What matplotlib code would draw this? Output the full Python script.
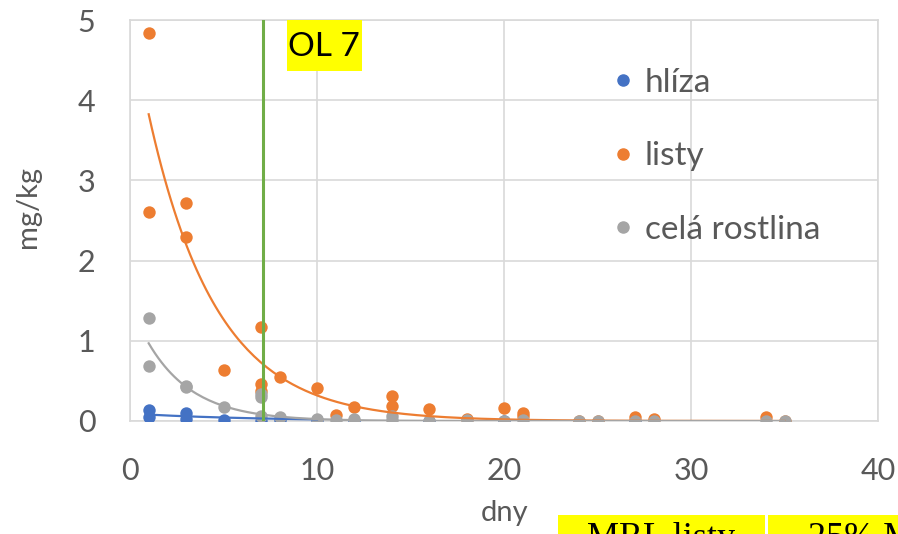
import numpy as np
import matplotlib
matplotlib.use("Agg")
import matplotlib.pyplot as plt
from matplotlib.lines import Line2D
from matplotlib.patches import Rectangle

plt.rcParams['font.family'] = ['Lato', 'DejaVu Sans']

# hlíza (tuber)
tuber_days = [1, 1, 3, 3, 5, 7, 8, 10, 12, 16, 20, 27]
tuber_vals = [0.14, 0.05, 0.10, 0.03, 0.01, 0.0, 0.01, 0.01, 0.0, 0.0, 0.0, 0.0]

# listy (leaves)
leaf_days = [1, 1, 3, 3, 5, 7, 7, 7, 8, 10, 11, 12, 14, 14, 16, 18, 20, 21, 21, 24, 25, 27, 28, 34, 35]
leaf_vals = [4.84, 2.60, 2.72, 2.29, 0.63, 1.17, 0.46, 0.37, 0.55, 0.41, 0.07, 0.17, 0.31, 0.19,
             0.15, 0.02, 0.16, 0.10, 0.06, 0.0, 0.0, 0.05, 0.02, 0.05, 0.0]

# celá rostlina (whole plant)
plant_days = [1, 1, 3, 3, 5, 7, 7, 7, 8, 10, 11, 12, 14, 14, 16, 18, 20, 21, 24, 25, 27, 28, 34, 35]
plant_vals = [1.29, 0.69, 0.44, 0.42, 0.17, 0.34, 0.30, 0.06, 0.05, 0.02, 0.01, 0.03, 0.06, 0.01,
              0.0, 0.01, 0.0, 0.01, 0.0, 0.0, 0.0, 0.0, 0.0, 0.0]

# exponential trend lines y = a*exp(-b*x) as shown in the chart, with x range
trend_tuber = (0.093, 0.154, 1, 10)
trend_leaf = (5.04, 0.276, 1, 35)
trend_plant = (1.46, 0.41, 1, 35)

ol_day = 7.1

blue = '#4472C4'
orange = '#ED7D31'
gray = '#A5A5A5'
green = '#70AD47'
txt = '#595959'
grid = '#D9D9D9'
yellow = '#FFFF00'

W, H = 898, 534
fig = plt.figure(figsize=(W / 100, H / 100), dpi=100)
ax = fig.add_axes([130 / W, 1 - 421 / H, 748 / W, 401 / H])

ms = 80
ax.scatter(tuber_days, tuber_vals, s=ms, color=blue, zorder=3, linewidths=0)
ax.scatter(leaf_days, leaf_vals, s=ms, color=orange, zorder=3, linewidths=0)
ax.scatter(plant_days, plant_vals, s=ms, color=gray, zorder=3, linewidths=0)

for (a, b, x0, x1), c in [(trend_tuber, blue), (trend_leaf, orange), (trend_plant, gray)]:
    xs = np.linspace(x0, x1, 200)
    ax.plot(xs, a * np.exp(-b * xs), color=c, lw=1.6, zorder=4)

ax.plot([ol_day, ol_day], [0, 5], color=green, lw=2.2, zorder=5)

ax.set_xlim(0, 40)
ax.set_ylim(0, 5)
ax.set_xticks([0, 10, 20, 30, 40])
ax.set_yticks([0, 1, 2, 3, 4, 5])
ax.grid(True, color=grid, lw=1.2)
ax.set_axisbelow(True)
for s in ax.spines.values():
    s.set_color(grid)
    s.set_linewidth(1.2)
ax.tick_params(length=0, labelsize=22, labelcolor=txt)
ax.tick_params(axis='x', pad=26)
ax.tick_params(axis='y', pad=25)

fig.text(28 / W, 1 - 207 / H, 'mg/kg', rotation=90, ha='center', va='center',
         fontsize=21, color=txt)
fig.text(505 / W, 1 - 513 / H, 'dny', ha='center', va='center', fontsize=21, color=txt)

# OL 7 label
fig.patches.append(Rectangle((287 / W, 1 - 71 / H), 75 / W, 51 / H, transform=fig.transFigure,
                             fc=yellow, ec='none', zorder=6))
fig.text(324 / W, 1 - 47 / H, 'OL 7', ha='center', va='center', fontsize=24, color='black',
         zorder=7)

handles = [Line2D([], [], marker='o', ls='none', color=c, markersize=8)
           for c in (blue, orange, gray)]
ax.legend(handles, ['hlíza', 'listy', 'celá rostlina'], loc='upper left',
          bbox_to_anchor=(0.601, 0.955), frameon=False, fontsize=24, labelcolor=txt,
          labelspacing=1.3, handletextpad=0.25, handlelength=0.8)

# MRL labels at the bottom, cut off by the figure edge as in the original
fig.patches.append(Rectangle((558 / W, 0), 207 / W, 19 / H, transform=fig.transFigure,
                             fc=yellow, ec='none', zorder=1))
fig.patches.append(Rectangle((768 / W, 0), 130 / W, 19 / H, transform=fig.transFigure,
                             fc=yellow, ec='none', zorder=1))
fig.text(587 / W, 1 - 522 / H, 'MRL listy', ha='left', va='top', fontsize=26,
         family='Liberation Serif', color='black')
fig.text(808 / W, 1 - 522 / H, '25% MRL', ha='left', va='top', fontsize=26,
         family='Liberation Serif', color='black')

fig.savefig('out.png', dpi=100)
